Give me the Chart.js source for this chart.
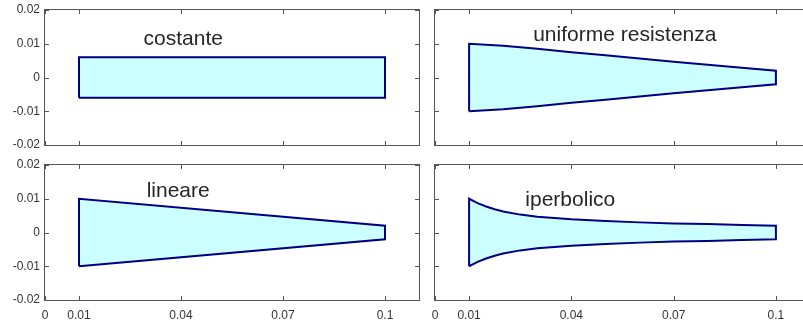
<!DOCTYPE html>
<html>
<head>
<meta charset="utf-8">
<script src="https://cdn.jsdelivr.net/npm/chart.js@4.4.1/dist/chart.umd.min.js"></script>
<style>
  html, body { margin: 0; padding: 0; background: #fff; }
  body { width: 803px; height: 325px; overflow: hidden; position: relative; }
  .pannello { position: absolute; }
</style>
</head>
<body>
<div class="pannello" style="left:0;top:0;width:421px;height:150px"><canvas id="costante"></canvas></div>
<div class="pannello" style="left:431px;top:0;width:385px;height:150px"><canvas id="uniforme"></canvas></div>
<div class="pannello" style="left:0;top:155px;width:421px;height:170px"><canvas id="lineare"></canvas></div>
<div class="pannello" style="left:431px;top:155px;width:385px;height:170px"><canvas id="iperbolico"></canvas></div>
<script>
// ascisse lungo la trave e semi-altezze
const ascisse = [0.01, 0.02, 0.03, 0.04, 0.05, 0.06, 0.07, 0.08, 0.09, 0.1];
const semiCostante = [0.006, 0.006, 0.006, 0.006, 0.006, 0.006, 0.006, 0.006, 0.006, 0.006];
const semiUniforme = [0.0100, 0.0094, 0.0085, 0.0075, 0.0066, 0.0056, 0.0047, 0.0038, 0.0029, 0.0020];
const ascisseLineare = [0.01, 0.1];
const semiLineare = [0.0100, 0.0020];
const ascisseIperbolico = [0.01, 0.0125, 0.015, 0.0175, 0.02, 0.025, 0.03, 0.035, 0.04, 0.05, 0.06, 0.07, 0.08, 0.09, 0.1];
const semiIperbolico = [0.0100, 0.0087, 0.0077, 0.0069, 0.0062, 0.0053, 0.0047, 0.0043, 0.0039, 0.0034, 0.0030, 0.0027, 0.0025, 0.0022, 0.0020];

const tickX = [0, 0.01, 0.04, 0.07, 0.1];
const tickY = [-0.02, -0.01, 0, 0.01, 0.02];

const FONT = '"Liberation Sans", Arial, Helvetica, sans-serif';

// cornice con tacche interne e scritta del pannello
const cornice = {
  id: 'cornice',
  afterDraw(chart, args, opts) {
    const { ctx, chartArea: a, scales } = chart;
    const l = Math.round(a.left), t = Math.round(a.top), r = Math.round(a.right), b = Math.round(a.bottom);
    ctx.save();
    ctx.strokeStyle = '#555';
    ctx.lineWidth = 1;
    ctx.strokeRect(l - 0.5, t - 0.5, r - l + 1, b - t + 1);
    ctx.beginPath();
    tickX.forEach(v => {
      const px = Math.round(scales.x.getPixelForValue(v)) + 0.5;
      ctx.moveTo(px, t); ctx.lineTo(px, t + 4);
      ctx.moveTo(px, b); ctx.lineTo(px, b - 4);
    });
    tickY.forEach(v => {
      const py = Math.round(scales.y.getPixelForValue(v)) + 0.5;
      ctx.moveTo(l, py); ctx.lineTo(l + 4, py);
      ctx.moveTo(r, py); ctx.lineTo(r - 4, py);
    });
    ctx.stroke();
    ctx.font = '21px ' + FONT;
    ctx.fillStyle = '#262626';
    ctx.textBaseline = 'alphabetic';
    ctx.textAlign = 'left';
    ctx.fillText(opts.testo, scales.x.getPixelForValue(opts.tx), scales.y.getPixelForValue(opts.ty));
    ctx.restore();
  }
};

function etichetta(v) {
  return String(+Number(v).toFixed(4));
}

function disegnaPannello(id, xs, hs, testo, tx, ty, conX, conY) {
  const sopra = xs.map((x, i) => ({ x: x, y: hs[i] }));
  const sotto = xs.map((x, i) => ({ x: x, y: -hs[i] }));
  const contorno = [sotto[0]].concat(sopra, sotto.slice().reverse());

  new Chart(document.getElementById(id), {
    type: 'line',
    data: {
      datasets: [
        { data: sopra, fill: '+1', backgroundColor: '#ccffff', borderColor: 'rgba(0,0,0,0)', borderWidth: 0 },
        { data: sotto, fill: false, borderColor: 'rgba(0,0,0,0)', borderWidth: 0 },
        { data: contorno, fill: false, borderColor: '#000080', borderWidth: 2, borderJoinStyle: 'miter' }
      ]
    },
    options: {
      animation: false,
      responsive: true,
      maintainAspectRatio: false,
      events: [],
      elements: { point: { radius: 0, hitRadius: 0 }, line: { tension: 0 } },
      layout: { padding: { top: 10, bottom: conX ? 0 : 5, left: 0, right: conY ? 2 : 6 } },
      plugins: {
        legend: { display: false },
        tooltip: { enabled: false },
        filler: { drawTime: 'beforeDatasetsDraw' },
        cornice: { testo: testo, tx: tx, ty: ty }
      },
      scales: {
        x: {
          type: 'linear', min: 0, max: 0.11,
          grid: { display: false, drawTicks: false }, border: { display: false },
          afterBuildTicks: s => { s.ticks = tickX.map(v => ({ value: v })); },
          afterFit: s => { s.height = conX ? 25 : 0; s.paddingLeft = 0; s.paddingRight = 0; },
          ticks: { display: conX, padding: 8, color: '#333', font: { size: 12, family: FONT }, autoSkip: false, maxRotation: 0, callback: etichetta }
        },
        y: {
          type: 'linear', min: -0.02, max: 0.02,
          grid: { display: false, drawTicks: false }, border: { display: false },
          afterBuildTicks: s => { s.ticks = tickY.map(v => ({ value: v })); },
          afterFit: s => { s.width = conY ? 45 : 4; s.paddingTop = 0; s.paddingBottom = 0; },
          ticks: { display: conY, padding: 5, color: '#333', font: { size: 12, family: FONT }, callback: etichetta }
        }
      }
    },
    plugins: [cornice]
  });
}

disegnaPannello('costante', ascisse, semiCostante, 'costante', 0.029, 0.0096, false, true);
disegnaPannello('uniforme', ascisse, semiUniforme, 'uniforme resistenza', 0.0288, 0.0107, false, false);
disegnaPannello('lineare', ascisseLineare, semiLineare, 'lineare', 0.0299, 0.0106, true, true);
disegnaPannello('iperbolico', ascisseIperbolico, semiIperbolico, 'iperbolico', 0.0265, 0.0079, true, false);
</script>
</body>
</html>
